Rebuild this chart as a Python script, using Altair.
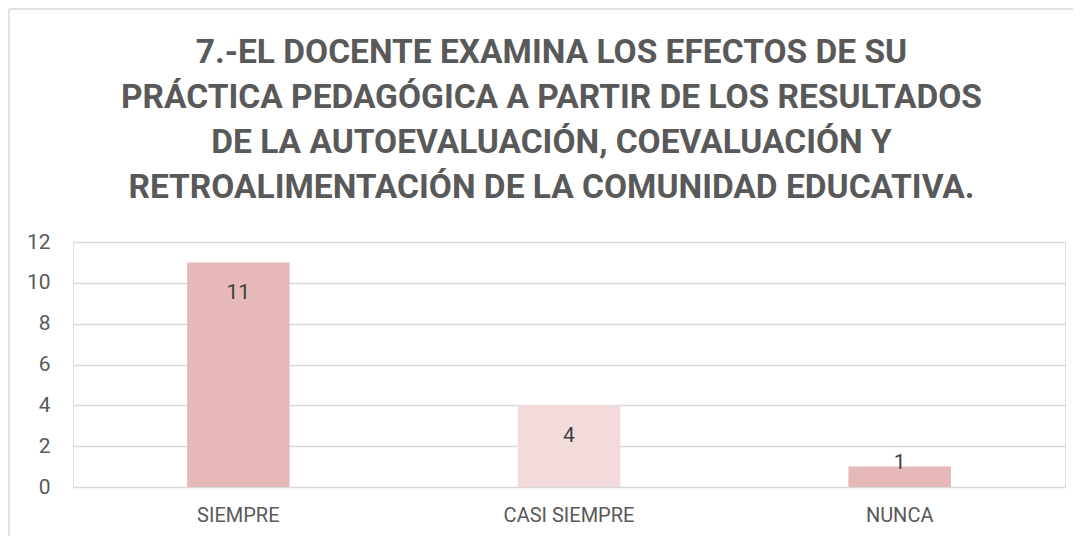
import altair as alt
import pandas as pd

categories = ["SIEMPRE", "CASI SIEMPRE", "NUNCA"]
values = [11, 4, 1]
bar_colors = ["#e6b8b7", "#f2dcdb", "#e6b8b7"]
y_ticks = [0, 2, 4, 6, 8, 10, 12]
title_lines = [
    "7.-EL DOCENTE EXAMINA LOS EFECTOS DE SU",
    "PRÁCTICA PEDAGÓGICA A PARTIR DE LOS RESULTADOS",
    "DE LA AUTOEVALUACIÓN, COEVALUACIÓN Y",
    "RETROALIMENTACIÓN DE LA COMUNIDAD EDUCATIVA.",
]

df = pd.DataFrame({"categoria": categories, "valor": values})

W, H = 992, 245
FONT = "Roboto"

x_enc = alt.X(
    "categoria:N",
    sort=categories,
    scale=alt.Scale(paddingInner=0.69, paddingOuter=0.345),
    axis=alt.Axis(
        title=None, labelAngle=0, domain=False, ticks=False,
        labelFontSize=20, labelColor="#595959", labelPadding=18, labelFont=FONT,
    ),
)
y_axis = alt.Axis(
    title=None, values=y_ticks, domain=False, ticks=False,
    labelFontSize=21, labelColor="#595959", labelPadding=23, labelFont=FONT,
    gridColor="#d9d9d9", gridWidth=1.5,
)

base = alt.Chart(df)

bars = base.mark_bar().encode(
    x=x_enc,
    y=alt.Y("valor:Q", scale=alt.Scale(domain=[0, 12]), axis=y_axis),
    color=alt.Color("categoria:N", scale=alt.Scale(domain=categories, range=bar_colors), legend=None),
)

labels = base.transform_calculate(
    pos="datum.valor > 2 ? datum.valor - 0.95 : datum.valor + 0.7"
).mark_text(baseline="top", fontSize=21, color="#404040", font=FONT).encode(
    x=x_enc,
    y=alt.Y("pos:Q"),
    text="valor:Q",
)

frame = alt.Chart(alt.Data(values=[{"k": 1}]))
border_left = frame.mark_rule(color="#d9d9d9", strokeWidth=1.5).encode(
    x=alt.value(-64), y=alt.value(-233), y2=alt.value(294)
)
border_top = frame.mark_rule(color="#d9d9d9", strokeWidth=1.5).encode(
    x=alt.value(-64), x2=alt.value(1000), y=alt.value(-233)
)
title_text = frame.mark_text(
    text=title_lines, fontSize=33.5, font=FONT, fontWeight="bold",
    color="#595959", lineHeight=45, align="center", baseline="alphabetic",
).encode(x=alt.value(478.5), y=alt.value(-179.5))

chart = alt.layer(border_left, border_top, title_text, bars, labels).properties(
    width=W,
    height=H,
    padding=0,
).configure_view(stroke=None).configure(font=FONT)

chart.save("out.html", embed_options={"renderer": "svg", "actions": False})
